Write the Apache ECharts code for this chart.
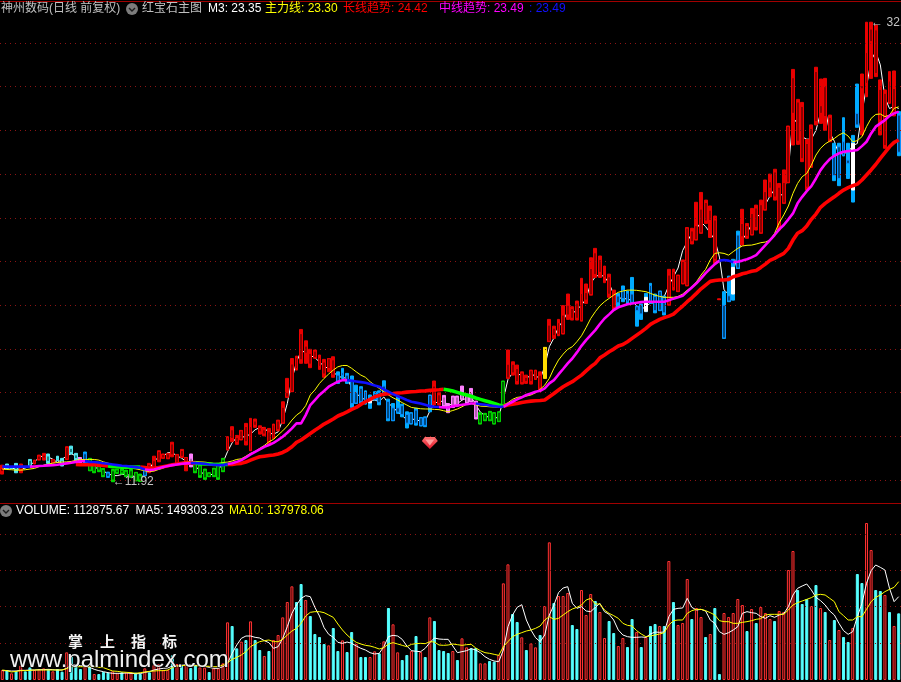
<!DOCTYPE html>
<html>
<head>
<meta charset="utf-8">
<style>html,body{margin:0;padding:0;background:#000;overflow:hidden}#c{width:901px;height:682px}</style>
<script src="https://cdn.jsdelivr.net/npm/echarts@6/dist/echarts.min.js"></script>
</head>
<body>
<div id="c"></div>
<script>
// ---------- price candles ----------
const opens = [
12.38,12.68,12.58,12.60,12.48,12.60,12.90,12.76,12.94,13.00,
13.10,12.81,13.00,12.90,12.96,13.45,13.15,12.98,13.20,12.45,
12.70,12.70,12.48,12.32,12.42,12.46,12.44,12.40,12.42,11.98,
12.20,12.21,12.40,12.44,12.90,13.01,13.00,13.65,12.75,13.35,
12.75,13.00,12.40,12.65,12.45,12.17,12.50,12.70,12.42,13.39,
14.30,13.95,13.85,14.45,13.36,14.70,14.40,14.10,14.20,13.92,
14.30,14.61,15.80,16.06,17.60,18.70,17.80,17.80,17.90,17.60,
17.40,17.10,17.50,16.80,16.80,16.80,16.60,15.52,16.20,16.00,
15.53,15.95,16.00,15.89,15.60,14.73,15.30,15.40,15.00,14.58,
15.20,14.49,14.85,15.28,16.30,15.90,15.80,15.40,15.34,15.80,
15.71,15.55,15.60,15.55,14.60,14.75,15.10,14.58,14.69,15.37,
16.67,17.30,17.10,16.45,16.70,16.50,16.62,16.80,16.67,18.35,
18.95,18.65,18.70,19.55,19.85,20.10,19.29,20.23,20.48,22.40,
22.10,21.27,21.30,20.50,20.11,20.70,20.55,20.51,19.75,20.00,
19.72,20.90,20.40,19.77,20.35,20.02,21.55,20.64,21.00,20.90,
23.40,23.00,23.31,24.70,23.87,23.90,20.27,18.50,20.19,20.51,
21.70,23.13,23.65,23.23,24.45,23.31,24.37,25.35,26.10,23.60,
24.68,25.62,28.78,29.30,29.10,27.40,26.34,30.70,28.78,28.63,
28.60,26.87,25.80,27.48,26.64,25.27,28.78,30.05,30.15,32.06,
32.60,28.47,29.70,29.26,28.68,28.70];
const closes = [
12.53,12.56,12.54,12.48,12.60,12.58,12.64,12.88,13.10,13.14,
12.85,12.92,12.95,12.72,13.50,13.25,12.98,12.80,12.80,12.97,
12.40,12.45,12.20,12.16,12.00,12.34,12.32,12.20,12.18,12.33,
12.00,12.51,12.70,12.88,13.30,13.17,13.20,13.15,13.15,13.08,
13.03,12.70,12.80,12.20,12.10,12.31,12.20,12.10,12.95,13.96,
13.90,13.72,14.25,13.75,14.45,14.50,14.20,14.30,13.70,14.52,
14.70,15.33,16.00,17.31,17.10,17.50,18.13,17.30,17.60,17.20,
16.85,17.55,16.80,16.50,16.90,16.50,15.50,16.00,15.60,15.60,
15.73,15.70,15.55,16.30,14.80,15.30,15.10,15.00,14.60,15.06,
14.60,14.84,14.50,15.87,15.60,15.50,15.40,15.20,15.80,15.45,
16.00,15.85,16.00,14.85,15.00,15.00,14.75,15.06,15.10,16.51,
17.30,16.90,16.50,16.90,16.50,17.00,17.00,16.20,18.05,19.09,
18.60,19.20,19.55,20.00,19.40,19.40,20.54,20.58,21.68,21.40,
21.50,21.41,20.50,19.90,20.42,20.30,20.15,20.13,19.93,19.60,
20.36,20.15,19.75,20.63,19.65,21.38,20.80,21.36,22.00,23.53,
22.90,23.64,24.40,23.85,24.35,22.10,20.27,20.00,20.43,21.73,
23.21,23.74,23.15,24.20,23.55,24.60,25.20,25.65,24.95,25.40,
25.62,28.18,30.41,27.50,26.70,25.40,28.09,28.40,29.13,30.00,
27.60,25.93,27.25,26.87,26.49,27.41,28.25,29.90,31.57,32.64,
30.60,29.88,27.30,30.26,29.92,27.00];
const highs = [
12.68,12.73,12.60,12.76,12.73,12.62,12.94,12.91,13.14,13.22,
13.19,12.94,13.09,12.99,13.52,13.55,13.22,13.03,13.28,12.99,
12.76,12.76,12.53,12.36,12.48,12.50,12.50,12.45,12.48,12.35,
12.27,12.53,12.76,13.09,13.34,13.19,13.22,13.73,13.17,13.40,
13.03,13.19,12.83,12.73,12.50,12.33,12.54,12.76,12.99,13.98,
14.44,14.04,14.27,14.59,14.82,14.79,14.48,14.41,14.36,14.56,
14.74,15.58,16.65,17.56,17.67,18.89,18.37,17.98,17.95,17.72,
17.52,17.56,17.64,16.95,17.11,16.88,16.76,16.34,16.27,16.08,
15.89,16.04,16.08,16.54,15.70,15.50,15.84,15.47,15.12,15.08,
15.28,14.86,14.89,15.89,16.53,15.99,15.87,15.50,15.84,15.84,
16.30,15.93,16.19,15.61,15.08,15.05,15.14,15.08,15.12,16.53,
17.95,17.41,17.26,16.95,16.80,17.03,17.03,16.95,18.07,19.35,
19.04,19.35,19.98,20.51,19.93,20.19,21.23,20.97,22.17,22.60,
22.25,21.79,21.42,20.69,20.54,20.88,20.65,21.27,19.96,20.05,
20.54,21.00,20.51,20.65,20.42,21.64,21.65,21.38,22.07,23.55,
23.52,24.71,25.16,24.81,24.54,24.08,20.29,20.62,21.33,22.10,
23.39,24.39,23.74,24.43,24.58,24.81,25.73,26.00,26.22,25.57,
26.19,28.20,30.79,29.42,29.28,27.59,28.25,30.89,30.35,30.38,
28.70,27.41,27.41,28.58,27.41,27.77,30.12,30.58,32.95,32.95,
32.82,30.31,29.85,30.69,30.72,28.86];
const lows = [
12.27,12.53,12.51,12.33,12.33,12.56,12.60,12.73,12.91,12.91,
12.76,12.79,12.88,12.64,12.94,13.19,12.91,12.76,12.73,12.42,
12.33,12.38,12.15,12.12,11.92,12.30,12.27,12.15,12.12,11.96,
11.93,12.19,12.33,12.42,12.83,12.99,12.97,13.06,12.73,13.03,
12.42,12.60,12.33,12.12,12.03,12.15,12.15,12.03,12.38,13.37,
13.75,13.63,13.83,13.60,13.34,14.41,14.10,14.02,13.60,13.90,
14.25,14.59,15.78,16.04,17.03,17.34,17.34,17.14,17.57,17.06,
16.70,16.95,16.70,16.42,16.65,16.42,15.32,15.50,15.50,15.47,
15.28,15.66,15.44,15.89,14.71,14.71,15.05,14.89,14.38,14.56,
14.51,14.47,14.44,15.12,15.43,15.43,15.35,15.08,15.32,15.38,
15.69,15.50,15.58,14.79,14.56,14.71,14.71,14.56,14.67,15.35,
16.65,16.80,16.39,16.39,16.42,16.39,16.60,16.08,16.65,18.33,
18.48,18.60,18.68,19.35,19.32,19.32,19.27,20.08,20.46,21.27,
21.27,21.03,20.36,19.78,19.90,20.16,20.05,20.11,19.04,19.35,
19.70,20.08,19.65,19.75,19.55,20.00,20.69,20.62,20.97,20.88,
22.80,22.98,23.29,23.74,23.10,21.91,20.25,18.48,20.16,20.23,
21.68,22.75,23.06,23.21,23.44,23.29,24.35,24.96,24.81,23.44,
24.66,25.60,27.33,27.36,26.57,25.27,26.31,28.25,28.32,28.00,
27.48,25.70,25.47,26.83,25.80,24.72,28.14,27.79,29.54,30.38,
30.46,27.79,27.18,29.24,28.66,26.84];
// r red, c light cyan, b blue, g green, p pink, w white, y yellow
const candleKinds = (
"r c c c r c c r r r "+"c r c c r c c p b g "+"g g g b g g g g g g "+"g b r r r r r r r r "+
"r p g g g g g g g r "+"r r r r r r r r r r "+"r r r r r r r r r r "+"r r r b b b b b b b "+
"w b b b b b b b b b "+"b b b b r r p p p p "+"p p p p g g g g g g "+"r r r r r r r r y r "+
"r r r r r r r r r r "+"r r r r b b b b b b "+"w b b b b r r r r r "+"r r r r r r r b b w "+
"b r r r r r r r r r "+"r r r r r r r r r r "+"r b b b b w b r r r "+"r r r r r b").split(" ");

// ---------- price lines ----------
const m3Line = [
12.5,12.55,12.55,12.5,12.5,12.55,12.65,12.85,13.0,13.15,
13.05,12.95,12.8,12.95,13.1,13.2,13.1,12.95,12.9,12.75,
12.55,12.55,12.4,12.3,12.2,12.2,12.25,12.25,12.2,12.15,
12.1,12.25,12.5,12.85,13.05,13.1,13.25,13.25,13.1,13.0,
12.85,12.8,12.65,12.4,12.25,12.2,12.3,12.45,12.8,13.3,
13.7,13.95,13.95,14.0,14.1,14.3,14.4,14.4,14.15,14.1,
14.2,14.75,15.5,16.6,17.4,17.9,17.85,17.7,17.6,17.4,
17.2,17.1,16.9,16.8,16.65,16.7,16.2,15.95,15.8,15.65,
15.65,15.65,15.6,15.8,15.5,15.35,15.1,14.95,14.75,14.8,
14.75,14.7,14.7,15.15,15.5,15.6,15.6,15.45,15.45,15.5,
15.65,15.75,15.8,15.45,15.1,14.95,14.85,14.8,14.9,15.7,
16.6,16.9,16.9,16.75,16.65,16.8,16.8,16.6,17.2,18.1,
18.5,19.0,19.3,19.7,19.6,19.8,20.0,20.3,21.0,21.3,
21.4,21.3,21.0,20.5,20.3,20.35,20.25,20.25,19.95,19.8,
19.95,20.1,20.1,20.15,20.4,20.9,21.3,21.7,22.5,22.9,
23.3,23.5,23.8,23.6,23.3,23.0,22.2,20.7,20.5,21.5,
22.4,23.0,23.3,23.7,24.0,24.2,24.6,25.0,25.3,25.0,
25.1,26.2,28.6,28.3,27.7,27.6,27.6,28.0,28.8,29.0,
27.9,27.5,26.9,26.95,27.0,27.3,27.4,28.8,30.0,31.2,
31.6,31.0,29.5,29.0,29.1,29.0];
const mainLine = [
12.50,12.48,12.47,12.45,12.45,12.47,12.50,12.53,12.61,12.68,
12.73,12.77,12.80,12.82,12.83,12.85,12.90,12.93,12.94,12.94,
12.94,12.91,12.83,12.77,12.71,12.65,12.61,12.57,12.54,12.51,
12.47,12.42,12.38,12.41,12.48,12.54,12.64,12.70,12.76,12.80,
12.83,12.85,12.85,12.83,12.82,12.79,12.76,12.76,12.80,12.82,
12.87,12.94,12.97,13.09,13.22,13.31,13.45,13.58,13.75,13.86,
14.06,14.25,14.47,14.74,14.97,15.12,15.40,15.89,16.12,16.42,
16.65,16.85,17.03,17.18,17.24,17.24,17.11,16.95,16.80,16.70,
16.50,16.34,16.19,16.04,15.89,15.76,15.66,15.54,15.43,15.32,
15.29,15.26,15.25,15.25,15.23,15.22,15.17,15.12,15.18,15.25,
15.35,15.47,15.50,15.44,15.38,15.37,15.35,15.34,15.32,15.43,
15.54,15.69,15.78,15.81,15.84,15.89,15.99,16.15,16.34,16.65,
17.11,17.49,17.76,17.98,18.10,18.33,18.60,18.98,19.39,19.70,
19.97,20.16,20.31,20.46,20.59,20.65,20.69,20.69,20.68,20.65,
20.62,20.54,20.46,20.40,20.36,20.36,20.36,20.40,20.51,20.69,
20.84,21.07,21.38,21.64,22.07,22.37,22.40,22.37,22.29,22.45,
22.60,22.71,22.74,22.75,22.80,22.86,22.89,22.98,23.29,23.77,
24.13,24.54,25.12,25.57,25.88,26.03,26.41,26.87,27.18,27.38,
27.51,27.63,27.79,27.89,27.74,27.48,27.53,27.71,28.17,28.55,
28.73,28.75,28.63,28.70,29.01,29.08];
const midLine = [
12.61,12.61,12.61,12.61,12.61,12.61,12.61,12.62,12.64,12.65,
12.67,12.68,12.70,12.73,12.76,12.79,12.83,12.85,12.87,12.83,
12.82,12.80,12.77,12.74,12.71,12.68,12.65,12.64,12.61,12.59,
12.56,12.48,12.45,12.48,12.54,12.59,12.64,12.68,12.71,12.74,
12.76,12.77,12.77,12.76,12.74,12.71,12.70,12.68,12.68,12.73,
12.77,12.83,12.91,13.03,13.17,13.29,13.40,13.52,13.60,13.70,
13.83,13.98,14.16,14.36,14.59,14.59,14.97,15.43,15.66,15.89,
16.07,16.27,16.39,16.50,16.57,16.57,16.54,16.51,16.48,16.45,
16.39,16.33,16.27,16.15,16.04,15.93,15.84,15.75,15.66,15.58,
15.54,15.50,15.44,15.38,15.35,15.34,15.32,15.32,15.38,15.41,
15.44,15.47,15.50,15.50,15.47,15.44,15.41,15.38,15.35,15.35,
15.47,15.58,15.69,15.78,15.89,15.96,16.04,16.08,16.19,16.42,
16.57,16.83,17.08,17.34,17.56,17.84,18.14,18.40,18.63,18.86,
19.14,19.39,19.58,19.78,19.90,19.97,20.04,20.08,20.11,20.14,
20.16,20.16,20.16,20.16,20.16,20.23,20.30,20.36,20.43,20.62,
20.81,21.00,21.23,21.47,21.68,21.88,22.04,22.07,22.04,21.97,
21.99,22.04,22.10,22.19,22.29,22.52,22.75,22.98,23.21,23.47,
23.67,23.93,24.20,24.66,24.96,25.22,25.45,25.80,26.18,26.46,
26.69,26.84,26.95,27.02,27.05,27.07,27.10,27.28,27.48,27.86,
28.17,28.32,28.47,28.67,28.78,28.86];
const longLine = [
null,null,null,null,null,null,null,null,null,null,
null,null,null,null,null,null,12.71,12.70,12.70,12.70,
12.70,12.68,12.67,12.64,12.61,12.61,12.59,12.59,12.59,12.59,
12.59,12.57,12.54,12.54,12.57,12.61,12.65,12.70,12.73,12.76,
12.77,12.77,12.76,12.74,12.73,12.73,12.71,12.71,12.71,12.71,
12.71,12.74,12.76,12.82,12.91,12.99,13.06,13.09,13.12,13.14,
13.19,13.26,13.37,13.52,13.72,13.83,13.98,14.13,14.28,14.41,
14.56,14.67,14.79,14.93,15.02,15.12,15.23,15.32,15.46,15.58,
15.69,15.81,15.87,15.93,15.95,15.96,15.98,15.99,16.02,16.04,
16.05,16.07,16.08,16.10,16.12,16.13,16.15,16.12,16.07,16.01,
15.95,15.89,15.83,15.75,15.69,15.63,15.57,15.50,15.43,15.38,
15.43,15.47,15.50,15.55,15.58,15.61,15.63,15.64,15.66,15.81,
15.96,16.12,16.27,16.39,16.50,16.65,16.80,16.99,17.18,17.34,
17.59,17.72,17.87,17.99,18.13,18.20,18.33,18.48,18.63,18.78,
18.94,19.12,19.24,19.35,19.43,19.50,19.59,19.78,19.96,20.16,
20.34,20.54,20.75,20.92,21.09,21.13,21.15,21.15,21.18,21.30,
21.36,21.44,21.49,21.55,21.59,21.73,21.88,22.05,22.14,22.26,
22.37,22.60,22.98,23.29,23.41,23.62,23.93,24.17,24.48,24.66,
24.81,24.96,25.12,25.27,25.38,25.47,25.54,25.73,25.96,26.19,
26.44,26.72,26.98,27.25,27.45,27.56];
const midFallingSpans = [[0,6],[18,31],[41,49],[75,95],[103,109],[156,159]];
const longFallingSpans = [[23,30],[42,49],[96,109]];

// ---------- volume (unit: 700 shares) ----------
const volume = [
30,30,20,27,43,26,38,30,32,35,33,26,33,25,83,70,40,33,40,40,
18,18,24,22,26,20,23,22,22,22,18,35,23,45,47,30,30,74,48,45,
50,36,45,38,37,24,35,35,50,173,162,95,115,120,176,120,90,72,87,120,
135,188,234,281,234,
288,240,192,138,129,108,104,156,87,119,84,144,108,69,69,69,86,80,116,216,
167,83,60,75,87,132,84,69,188,177,90,87,81,87,60,125,98,95,96,50,
50,57,55,75,290,347,198,174,128,90,110,98,135,222,413,231,252,252,261,165,
153,270,195,258,237,
204,126,177,141,102,126,99,183,144,99,129,162,168,162,162,357,234,165,171,303,
183,216,189,129,138,216,18,201,189,201,243,225,147,213,171,219,201,183,177,207,
204,330,387,270,228,243,222,285,216,204,120,180,150,129,114,156,318,291,471,390,
270,267,255,204,162,200];
const volumeKinds = (
"r c r c r c c r r r c r c c r c c c r c r c c c r r c r r c c r c r r r r c r c "+
"r c c r r c r r r r c c r c r c c r c r r r r r c "+
"c r c c c c r c c r c c r c c r r c r c r r c c r c r c r c c c c r c r r c c r "+
"r c c r r r c c r c r r c r r c r r r c c r r r c "+
"r r c c r r c c r c r c c r c r c r r r c r r c r c c r r r r r c r c r r r c r "+
"r r r c c c r c r c r c r c c r c c r r c c r c r c").split(" ");
const volMa5 = [
28,28,27,27,29,29,30,30,31,31,32,31,30,30,35,45,45,43,42,38,
32,28,25,22,20,20,20,21,20,19,19,23,25,30,33,35,36,42,42,44,
46,45,44,43,41,38,35,35,40,50,80,105,125,132,132,128,126,118,112,95,
100,125,160,200,225,
245,253,250,218,192,157,137,128,113,110,114,110,102,95,90,82,78,80,100,130,
134,132,122,102,88,86,85,95,112,126,123,122,122,102,82,85,88,94,90,82,
70,62,57,55,90,160,195,218,226,180,150,127,115,135,195,225,262,276,280,230,
215,220,207,205,218,
230,205,197,180,150,135,130,128,128,129,128,138,144,143,144,190,212,215,216,245,
218,210,212,207,180,170,145,137,142,150,160,200,205,202,200,190,185,193,188,195,
199,220,255,275,282,288,270,248,238,225,207,195,170,148,137,145,190,230,290,328,
345,338,330,275,235,250];
const volMa10 = [
30,28,24,26,28,28,29,30,30,30,30,30,30,30,34,40,40,40,40,40,
40,38,37,32,27,26,24,23,22,20,22,24,26,27,28,28,30,37,42,43,
44,43,43,42,42,41,40,40,45,52,62,68,75,85,100,108,115,118,120,115,
115,122,135,147,155,
170,192,203,205,205,202,195,188,168,150,135,123,113,108,104,102,98,93,97,108,
112,108,104,100,107,109,110,109,115,114,105,104,105,108,106,104,106,107,96,88,
82,80,77,74,100,115,130,137,142,147,150,155,162,180,190,182,185,195,205,213,
218,225,240,245,228,
228,210,200,193,185,170,164,162,148,138,130,132,135,138,142,165,178,180,180,200,
208,212,212,208,202,195,178,175,175,170,170,173,175,178,182,184,195,197,197,197,
197,210,225,232,237,242,247,255,257,255,245,235,205,193,180,180,190,190,212,235,
248,255,265,272,278,295];

// ---------- axes reference values ----------
const priceGrid = [12,14,16,18,20,22,24,26,28,30,32];
const volumeGrid = [110,221,329,437];
const lowMark = {index:24, price:11.92, text:"←11.92"};
const highMark = {index:189, price:32.95, text:"← 32.95"};
const gemMark = {index:93, price:13.69};
const categories = opens.map((_, i) => String(i));

// ---------- text ----------
const mainHeader = [
 ["神州数码(日线 前复权)",1,"#c0c0c0"],["红宝石主图",142,"#c0c0c0"],["M3: 23.35",208,"#ffffff"],
 ["主力线: 23.30",265,"#ffff00"],["长线趋势: 24.42",343,"#ff0000"],["中线趋势: 23.49",439,"#ff00ff"],
 [": 23.49",529,"#1010ff"]];
const volHeader = [["VOLUME: 112875.67",16,"#ffffff"],["MA5: 149303.23",135.5,"#ffffff"],["MA10: 137978.06",229,"#ffff00"]];
const watermarkChars = [["掌",68],["上",100],["指",131],["标",162]];
const watermarkUrl = "www.palmindex.com";

// ---------- styles ----------
const palette = {
 r:{stick:"#e80000",fill:"#e80000",inner:"#8c0000",line:"#f00000"},
 c:{stick:"#55e8f0",fill:"#55e8f0",inner:"#208080",line:"#55e8f0"},
 b:{stick:"#00aaff",fill:"#0080ff",inner:"#004a80",line:"#0a90ff"},
 g:{stick:"#00e000",fill:"#00e000",inner:"#006000",line:"#00d000"},
 p:{stick:"#ff80ff",fill:"#ffa0ff",inner:"#b060b0",line:"#ff80ff"},
 w:{stick:"#00aaff",fill:"#ffffff",inner:"#ffffff",line:"#ffffff"},
 y:{stick:"#ffdd00",fill:"#ffdd00",inner:"#ffdd00",line:"#ffdd00"}
};
const stickData = categories.map((_, i) => {
  const c = palette[candleKinds[i]].stick;
  return {value:[lows[i],highs[i],lows[i],highs[i]],
    itemStyle:{color:c,color0:c,borderColor:c,borderColor0:c,borderWidth:1}};
});
const bodyData = categories.map((_, i) => {
  const k = palette[candleKinds[i]];
  return {value:[opens[i],closes[i],Math.min(opens[i],closes[i]),Math.max(opens[i],closes[i])],
    itemStyle:{color:k.inner,color0:k.fill,borderColor:k.line,borderColor0:k.fill,borderWidth:1}};
});
const volBars = volume.map((v, i) => {
  const isUp = volumeKinds[i] === "r";
  return {value:v, itemStyle: isUp
    ? {color:"#300000",borderColor:"#ff3232",borderWidth:1}
    : {color:"#55ffff",borderColor:"#55ffff",borderWidth:1}};
});
function split(values, spans){
  const inside = i => spans.some(s => i>s[0] && i<s[1]);
  const onSpan = i => spans.some(s => i>=s[0] && i<=s[1]);
  return [values.map((v,i)=> inside(i)?null:v), values.map((v,i)=> onSpan(i)?v:null)];
}
const [midUp, midDown] = split(midLine, midFallingSpans);
const [longUp, longDown] = split(longLine, longFallingSpans);
function line(data, color, width, z, extra){
  return Object.assign({type:"line",data,xAxisIndex:0,yAxisIndex:0,symbol:"none",silent:true,
    lineStyle:{color,width},itemStyle:{color},z,connectNulls:false},extra||{});
}
function vline(data, color, z){
  return {type:"line",data,xAxisIndex:1,yAxisIndex:1,symbol:"none",silent:true,
    lineStyle:{color,width:1},itemStyle:{color},z};
}
function gridMark(values){
  return {silent:true,symbol:"none",animation:false,label:{show:false},
    lineStyle:{color:"#8c1414",width:1,type:[1,4]},data:values.map(v=>({yAxis:v}))};
}
const texts = [];
mainHeader.forEach(t=>texts.push(txt(t[0],t[1],9,t[2])));
volHeader.forEach(t=>texts.push(txt(t[0],t[1],511,t[2])));
function txt(s,x,y,c){return {type:"text",x,y,z:100,silent:true,
  style:{text:s,fill:c,font:'12px "Liberation Sans","Noto Sans CJK SC",sans-serif',textVerticalAlign:"middle"}};}
function btn(x,y){return [
 {type:"circle",shape:{cx:x,cy:y,r:6},style:{fill:"#7c7c7c"},z:100,silent:true},
 {type:"polyline",shape:{points:[[x-3,y-1],[x,y+2],[x+3,y-1]]},style:{stroke:"#1c1c1c",lineWidth:1.4,fill:null},z:101,silent:true}];}
const sep = y => ({type:"rect",shape:{x:0,y,width:901,height:1},style:{fill:"#a00000"},z:100,silent:true});
watermarkChars.forEach(c=>texts.push({type:"text",x:c[1],y:641,z:110,silent:true,
  style:{text:c[0],fill:"#f4f4f4",font:'bold 15px "Noto Sans CJK SC"',textVerticalAlign:"middle"}}));
texts.push({type:"text",x:10,y:660,z:110,silent:true,
  style:{text:watermarkUrl,fill:"#f0f0f0",stroke:"#000",lineWidth:1,font:'24px "Liberation Sans"',textVerticalAlign:"middle"}});

const option = {
 animation:false,backgroundColor:"#000",
 grid:[{left:-3.25,width:907.48,top:3,height:500},{left:-3.25,width:907.48,top:503,height:177}],
 xAxis:[{type:"category",data:categories,gridIndex:0,show:false,boundaryGap:true},
        {type:"category",data:categories,gridIndex:1,show:false,boundaryGap:true}],
 yAxis:[{type:"value",gridIndex:0,min:10.947,max:33.83,show:false,splitLine:{show:false}},
        {type:"value",gridIndex:1,min:0,max:531,show:false,splitLine:{show:false}}],
 graphic:{elements:[sep(1),sep(503),...btn(132,9),...btn(6,511),...texts]},
 series:[
  line(m3Line,"#ffffff",1,2,{markLine:gridMark(priceGrid)}),
  {type:"candlestick",data:stickData,xAxisIndex:0,yAxisIndex:0,barWidth:3.4,z:3,silent:true,
   markPoint:{silent:true,symbol:"circle",symbolSize:0,animation:false,
     label:{show:true,position:"right",distance:0,color:"#c4c4c4",fontSize:12,fontFamily:"Liberation Sans",formatter:p=>p.name},
     data:[{name:lowMark.text,coord:[lowMark.index,lowMark.price]},{name:highMark.text,coord:[highMark.index,highMark.price]},
       {name:"gem",coord:[gemMark.index,gemMark.price],symbol:"path://M3 0L13 0L16 4L8 12L0 4Z",symbolSize:[16,12],
        label:{show:false},itemStyle:{color:{type:"linear",x:0,y:0,x2:0,y2:1,colorStops:[{offset:0,color:"#ff7070"},{offset:1,color:"#e01428"}]}}},
       {name:"gemInner",coord:[gemMark.index,gemMark.price+0.03],symbol:"path://M1 0L9 0L5 5Z",symbolSize:[9,6],
        label:{show:false},itemStyle:{color:"#ff9c9c"}}]}},
  {type:"candlestick",data:bodyData,xAxisIndex:0,yAxisIndex:0,barWidth:3.4,z:4,silent:true},
  line(mainLine,"#ffff00",1,5),
  line(longUp,"#ff0000",3.6,6),
  line(longDown,"#00ff00",3.6,6),
  line(midUp,"#ff00ff",2.6,7),
  line(midDown,"#1010ff",2.6,7),
  {type:"bar",data:volBars,xAxisIndex:1,yAxisIndex:1,barWidth:3,z:2,silent:true,markLine:gridMark(volumeGrid)},
  vline(volMa5,"#ffffff",5),
  vline(volMa10,"#ffff00",6)
 ]
};
echarts.init(document.getElementById("c"),null,{renderer:"canvas"}).setOption(option);
</script>
</body>
</html>
